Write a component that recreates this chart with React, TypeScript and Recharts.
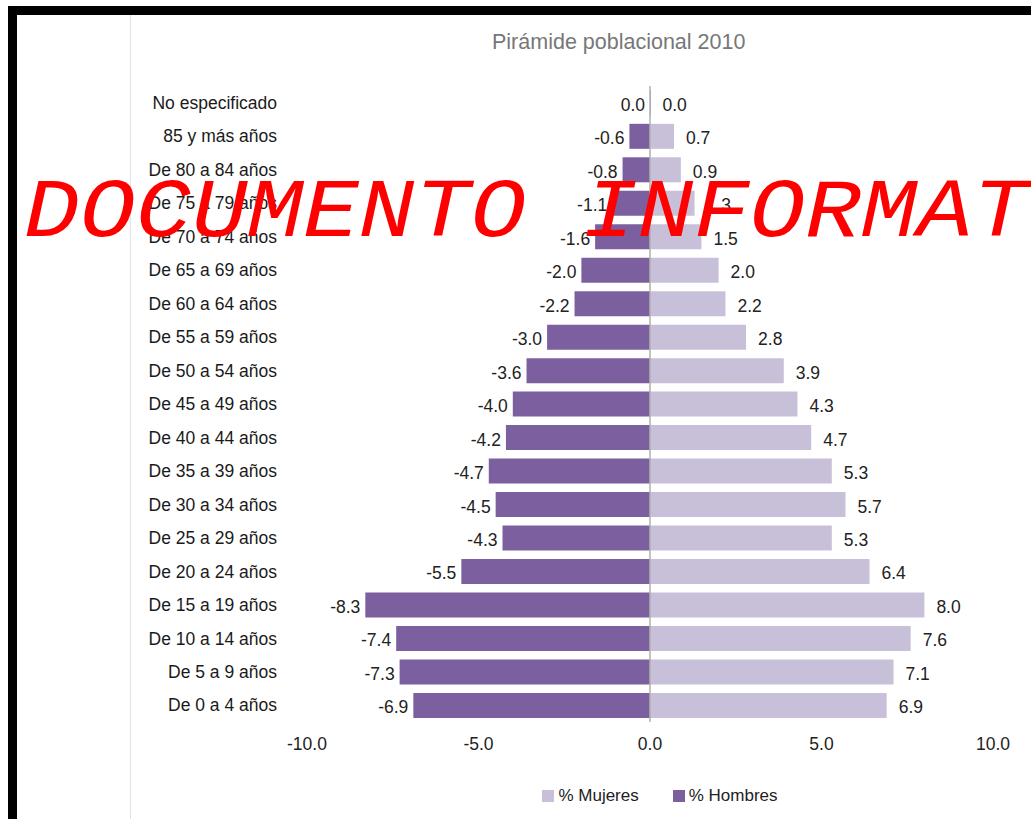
import { Bar, BarChart, Legend, LabelList, ReferenceLine, XAxis, YAxis } from 'recharts'

const grupos = [
  'No especificado',
  '85 y más años',
  'De 80 a 84 años',
  'De 75 a 79 años',
  'De 70 a 74 años',
  'De 65 a 69 años',
  'De 60 a 64 años',
  'De 55 a 59 años',
  'De 50 a 54 años',
  'De 45 a 49 años',
  'De 40 a 44 años',
  'De 35 a 39 años',
  'De 30 a 34 años',
  'De 25 a 29 años',
  'De 20 a 24 años',
  'De 15 a 19 años',
  'De 10 a 14 años',
  'De 5 a 9 años',
  'De 0 a 4 años',
]
const mujeres = [0.0, 0.7, 0.9, 1.3, 1.5, 2.0, 2.2, 2.8, 3.9, 4.3, 4.7, 5.3, 5.7, 5.3, 6.4, 8.0, 7.6, 7.1, 6.9]
const hombres = [0.0, -0.6, -0.8, -1.1, -1.6, -2.0, -2.2, -3.0, -3.6, -4.0, -4.2, -4.7, -4.5, -4.3, -5.5, -8.3, -7.4, -7.3, -6.9]
const ticksX = [-10, -5, 0, 5, 10]

const data = grupos.map((g, i) => ({ grupo: g, mujeres: mujeres[i], hombres: hombres[i] }))

const FONT = 'Arial, "Liberation Sans", sans-serif'
const COLOR_M = '#c8c0d9'
const COLOR_H = '#7b5f9f'

const labelFor = (side: 'left' | 'right') => (props: any) => {
  const { x, y, width, height, value } = props
  const left = Math.min(x, x + width)
  const right = Math.max(x, x + width)
  const tx = side === 'left' ? left - 5 : right + 12
  return (
    <text
      x={tx}
      y={y + height / 2 + 2}
      textAnchor={side === 'left' ? 'end' : 'start'}
      dominantBaseline="central"
      fontFamily={FONT}
      fontSize={17.5}
      fill="#222"
    >
      {Number(value).toFixed(1)}
    </text>
  )
}

const LegendBox = () => (
  <div style={{ display: 'flex', justifyContent: 'center', gap: 34, fontFamily: FONT, fontSize: 17, color: '#222' }}>
    {[
      { name: '% Mujeres', color: COLOR_M },
      { name: '% Hombres', color: COLOR_H },
    ].map((it) => (
      <span key={it.name} style={{ display: 'flex', alignItems: 'center' }}>
        <span style={{ width: 12, height: 12, background: it.color, marginRight: 4, display: 'inline-block' }} />
        {it.name}
      </span>
    ))}
  </div>
)

export default function App() {
  return (
    <div style={{ position: 'absolute', left: 0, top: 0, width: 1031, height: 819, overflow: 'hidden', background: '#fff' }}>
      <div style={{ position: 'absolute', left: 8, top: 6, width: 1023, height: 9, background: '#000' }} />
      <div style={{ position: 'absolute', left: 8, top: 6, width: 9, height: 813, background: '#000' }} />
      <div style={{ position: 'absolute', left: 130, top: 15, width: 1, height: 804, background: '#e2e2e2' }} />
      <div
        style={{
          position: 'absolute',
          left: 492,
          top: 30,
          whiteSpace: 'nowrap',
          fontFamily: FONT,
          fontSize: 21.5,
          color: '#777',
        }}
      >
        Pirámide poblacional 2010
      </div>
      <div style={{ position: 'absolute', left: 0, top: 0 }}>
        <BarChart
          width={1031}
          height={819}
          data={data}
          layout="vertical"
          stackOffset="sign"
          barCategoryGap="13%"
          margin={{ top: 86, right: 38, bottom: 67, left: 137 }}
        >
          <XAxis
            type="number"
            domain={[-10, 10]}
            ticks={ticksX}
            tickFormatter={(v: number) => v.toFixed(1)}
            axisLine={false}
            tickLine={false}
            tickSize={0}
            tickMargin={16}
            height={30}
            tick={{ fontFamily: FONT, fontSize: 17.5, fill: '#222' }}
          />
          <YAxis
            type="category"
            dataKey="grupo"
            width={170}
            axisLine={false}
            tickLine={false}
            tickSize={0}
            tickMargin={30}
            interval={0}
            tick={{ fontFamily: FONT, fontSize: 17.5, fill: '#1a1a1a' }}
          />
          <Legend
            layout="horizontal"
            verticalAlign="middle"
            align="center"
            content={<LegendBox />}
            wrapperStyle={{ top: 786, left: 330, width: 660 }}
          />
          <Bar dataKey="mujeres" name="% Mujeres" stackId="p" fill={COLOR_M} minPointSize={0.5} isAnimationActive={false}>
            <LabelList dataKey="mujeres" content={labelFor('right')} />
          </Bar>
          <Bar dataKey="hombres" name="% Hombres" stackId="p" fill={COLOR_H} minPointSize={0.5} isAnimationActive={false}>
            <LabelList dataKey="hombres" content={labelFor('left')} />
          </Bar>
          <ReferenceLine x={0} stroke="#b0b0b0" strokeWidth={1.5} />
        </BarChart>
      </div>
      <svg style={{ position: 'absolute', left: 0, top: 0, pointerEvents: 'none' }} width={1031} height={819}>
        <text
          x={24}
          y={236}
          fontFamily='"Liberation Mono", "Courier New", monospace'
          fontStyle="italic"
          fontSize={93}
          fill="#ff0000"
          transform="translate(0 23.6) scale(1 0.9)"
        >
          DOCUMENTO INFORMATIVO
        </text>
      </svg>
    </div>
  )
}
